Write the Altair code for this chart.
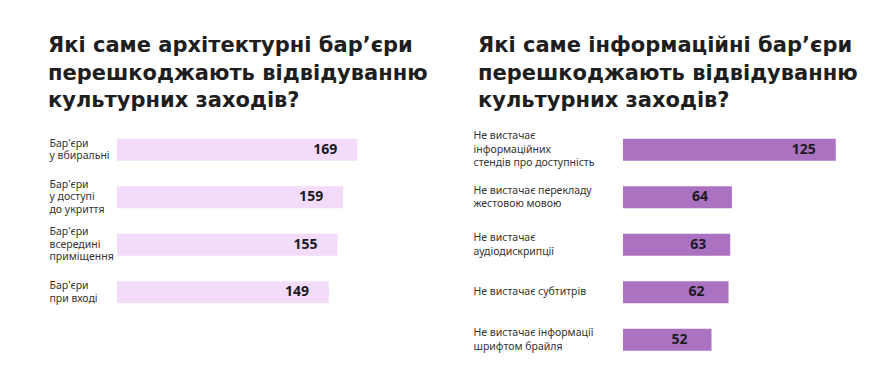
import altair as alt
import pandas as pd

left_title = ["Які саме архітектурні бар’єри", "перешкоджають відвідуванню", "культурних заходів?"]
left_labels = [
    "Бар'єри|у вбиральні",
    "Бар'єри|у доступі|до укриття",
    "Бар'єри|всередині|приміщення",
    "Бар'єри|при вході",
]
left_values = [169, 159, 155, 149]

right_title = ["Які саме інформаційні бар’єри", "перешкоджають відвідуванню", "культурних заходів?"]
right_labels = [
    "Не вистачає|інформаційних|стендів про доступність",
    "Не вистачає перекладу|жестовою мовою",
    "Не вистачає|аудіодискрипції",
    "Не вистачає субтитрів",
    "Не вистачає інформації|шрифтом брайля",
]
right_values = [125, 64, 63, 62, 52]

FONT = "Noto Sans"
TITLE_FONT = "DejaVu Sans"


def panel(labels, values, title, color, width, height, xmax, label_pad, line_h, title_dx):
    df = pd.DataFrame({"label": labels, "value": values})
    offset_expr = f"-(length(split(datum.value, '|')) - 1) * {line_h / 2}"
    base = alt.Chart(df).encode(
        y=alt.Y(
            "label:N",
            sort=None,
            scale=alt.Scale(paddingInner=0.537, paddingOuter=0.2685),
            axis=alt.Axis(
                title=None,
                ticks=False,
                domain=False,
                labelAlign="left",
                labelBaseline="middle",
                labelPadding=label_pad,
                labelExpr="split(datum.label, '|')",
                labelOffset=alt.ExprRef(offset_expr),
                labelFont=FONT,
                labelFontSize=10.5,
                labelColor="#333333",
                labelLineHeight=line_h,
                labelLimit=220,
            ),
        ),
        x=alt.X("value:Q", scale=alt.Scale(domain=[0, xmax]), axis=None),
    )
    bars = base.mark_bar(color=color)
    text = base.mark_text(
        align="center",
        baseline="middle",
        dx=-32,
        font=FONT,
        fontWeight="bold",
        fontSize=14,
        color="#1c1a24",
    ).encode(text="value:Q")
    return alt.layer(bars, text).properties(
        width=width,
        height=height,
        title=alt.TitleParams(
            text=title,
            anchor="start",
            font=TITLE_FONT,
            fontSize=21,
            fontWeight="bold",
            color="#1e1e1e",
            lineHeight=27.5,
            offset=15,
            dx=title_dx,
        ),
    )


left = panel(left_labels, left_values, left_title, "#f2dcfa", 320, 190, 225, 68, 12.5, -1)
right = panel(right_labels, right_values, right_title, "#ab72c2", 240, 237.5, 141, 150, 13.5, 5)

chart = (
    alt.hconcat(left, right, spacing=36)
    .properties(padding={"left": 40, "top": 27, "right": 5, "bottom": 5}, background="white")
    .configure_view(stroke=None)
)

chart.save("out.html", embed_options={"renderer": "svg", "actions": False})
